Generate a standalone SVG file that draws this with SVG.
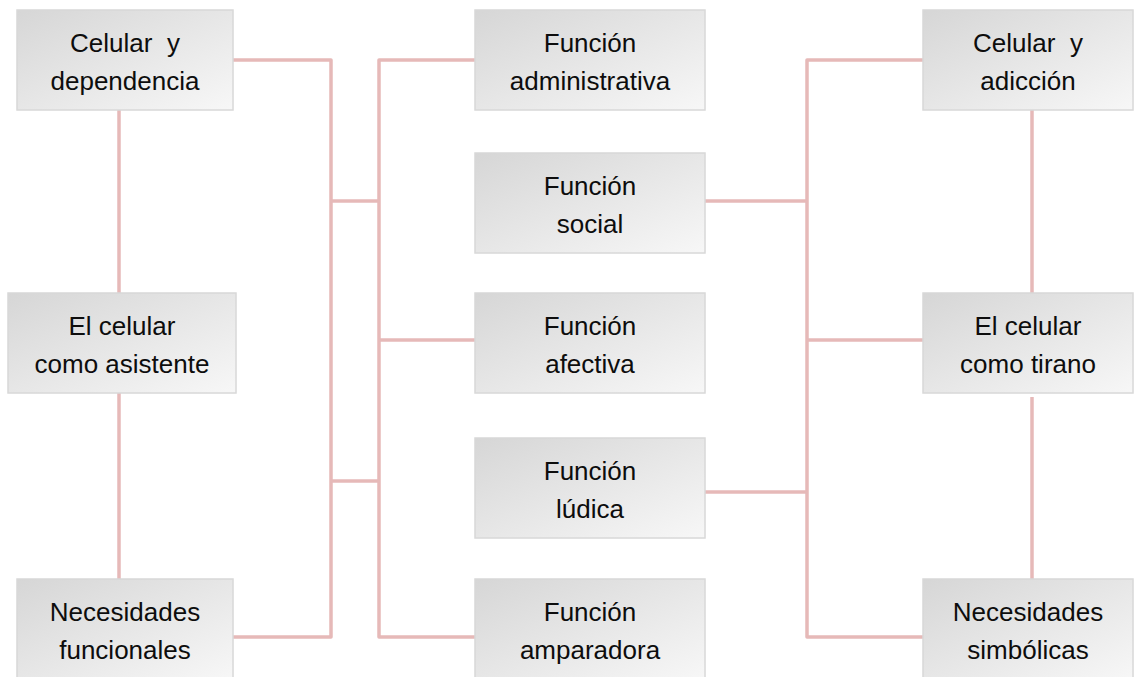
<svg xmlns="http://www.w3.org/2000/svg" width="1134" height="677" viewBox="0 0 1134 677">
  <defs>
    <linearGradient id="boxg" x1="0" y1="0" x2="1" y2="1">
      <stop offset="0" stop-color="#d6d6d6"/>
      <stop offset="1" stop-color="#f7f7f7"/>
    </linearGradient>
  </defs>
  <style>
    .box { fill: url(#boxg); stroke: #d8d8d8; stroke-width: 1.5; }
    .lbl { font-family: "Liberation Sans", Arial, sans-serif; font-size: 26px; fill: #0d0d0d; text-anchor: middle; white-space: pre; }
    .con { fill: none; stroke: #e6b9b8; stroke-width: 3.5; stroke-linejoin: round; }
  </style>
  <rect width="1134" height="677" fill="#ffffff"/>
  <g id="connectors">
    <line class="con" x1="119" y1="110" x2="119" y2="293"/>
    <line class="con" x1="119" y1="393" x2="119" y2="579"/>
    <line class="con" x1="1032" y1="110" x2="1032" y2="293"/>
    <line class="con" x1="1032" y1="397" x2="1032" y2="579"/>
    <polyline class="con" points="233,60 331,60 331,637 233,637"/>
    <line class="con" x1="331" y1="201" x2="379" y2="201"/>
    <line class="con" x1="331" y1="481" x2="379" y2="481"/>
    <polyline class="con" points="475,60 379,60 379,637 475,637"/>
    <line class="con" x1="379" y1="340" x2="475" y2="340"/>
    <polyline class="con" points="923,60 807,60 807,637 923,637"/>
    <line class="con" x1="705" y1="201" x2="807" y2="201"/>
    <line class="con" x1="807" y1="340" x2="923" y2="340"/>
    <line class="con" x1="705" y1="492" x2="807" y2="492"/>
  </g>
  <g id="n-celular-dependencia">
    <rect class="box" x="17" y="10" width="216" height="100"/>
    <text class="lbl" x="125" y="52" xml:space="preserve">Celular  y</text>
    <text class="lbl" x="125" y="90">dependencia</text>
  </g>
  <g id="n-celular-asistente">
    <rect class="box" x="8" y="293" width="228" height="100"/>
    <text class="lbl" x="122" y="335">El celular</text>
    <text class="lbl" x="122" y="373">como asistente</text>
  </g>
  <g id="n-necesidades-funcionales">
    <rect class="box" x="17" y="579" width="216" height="100"/>
    <text class="lbl" x="125" y="621">Necesidades</text>
    <text class="lbl" x="125" y="659">funcionales</text>
  </g>
  <g id="n-funcion-administrativa">
    <rect class="box" x="475" y="10" width="230" height="100"/>
    <text class="lbl" x="590" y="52">Función</text>
    <text class="lbl" x="590" y="90">administrativa</text>
  </g>
  <g id="n-funcion-social">
    <rect class="box" x="475" y="153" width="230" height="100"/>
    <text class="lbl" x="590" y="195">Función</text>
    <text class="lbl" x="590" y="233">social</text>
  </g>
  <g id="n-funcion-afectiva">
    <rect class="box" x="475" y="293" width="230" height="100"/>
    <text class="lbl" x="590" y="335">Función</text>
    <text class="lbl" x="590" y="373">afectiva</text>
  </g>
  <g id="n-funcion-ludica">
    <rect class="box" x="475" y="438" width="230" height="100"/>
    <text class="lbl" x="590" y="480">Función</text>
    <text class="lbl" x="590" y="518">lúdica</text>
  </g>
  <g id="n-funcion-amparadora">
    <rect class="box" x="475" y="579" width="230" height="100"/>
    <text class="lbl" x="590" y="621">Función</text>
    <text class="lbl" x="590" y="659">amparadora</text>
  </g>
  <g id="n-celular-adiccion">
    <rect class="box" x="923" y="10" width="210" height="100"/>
    <text class="lbl" x="1028" y="52" xml:space="preserve">Celular  y</text>
    <text class="lbl" x="1028" y="90">adicción</text>
  </g>
  <g id="n-celular-tirano">
    <rect class="box" x="923" y="293" width="210" height="100"/>
    <text class="lbl" x="1028" y="335">El celular</text>
    <text class="lbl" x="1028" y="373">como tirano</text>
  </g>
  <g id="n-necesidades-simbolicas">
    <rect class="box" x="923" y="579" width="210" height="100"/>
    <text class="lbl" x="1028" y="621">Necesidades</text>
    <text class="lbl" x="1028" y="659">simbólicas</text>
  </g>
</svg>
